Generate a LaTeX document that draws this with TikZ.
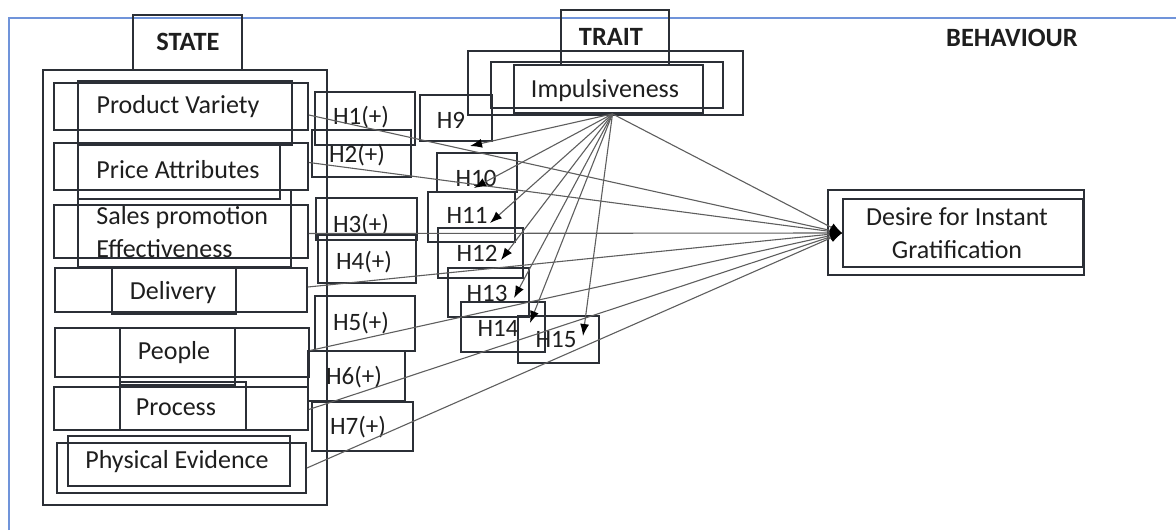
\documentclass[tikz,border=0pt]{standalone}
\usepackage{fontspec}
\setmainfont{Carlito}
\usepackage{xcolor}
\usetikzlibrary{fit,arrows.meta}
\definecolor{boxc}{HTML}{2B2F36}
\definecolor{framec}{HTML}{7094DA}
\definecolor{linec}{HTML}{5E5E5E}
\definecolor{txtc}{HTML}{1E1E1E}

\begin{document}
\begin{tikzpicture}[x=0.5pt,y=-0.5pt,
   bx/.style={draw=boxc,line width=0.9pt,inner sep=0pt,fit={#1}},
   lbl/.style={font=\fontsize{13}{16.5}\selectfont,inner sep=0pt,text=txtc},
   hyp/.style={font=\fontsize{12.5}{15}\selectfont,inner sep=0pt,text=txtc},
   head/.style={font=\bfseries\fontsize{13.2}{15}\selectfont,inner sep=0pt,text=txtc},
   link/.style={draw=linec,line width=0.55pt,-{Latex[length=6pt,width=4.5pt,color=black]}}]
   \useasboundingbox (0,0) rectangle (1176,530);
   \draw[framec,line width=1pt] (9,530) -- (9,18) -- (1176,18);
   % headings
   \node[bx={(133,15)(242,70)}] (statebox) {};
   \node[head] (state) at (188,42) {STATE};
   \node[bx={(561,10)(669,65)}] (traitbox) {};
   \node[head] (trait) at (611,37) {TRAIT};
   \node[head] (behav) at (1012,38) {BEHAVIOUR};
   % state constructs
   \node[bx={(43,70)(327,505)}] (statecol) {};
   \node[bx={(54,83)(308,130)}] (pvrow) {};
   \node[bx={(78,81)(292,145)}] (pvbox) {};
   \node[lbl] (pv) at (178,107) {Product Variety};
   \node[bx={(54,143)(308,190)}] (parow) {};
   \node[bx={(78,145)(280,199)}] (pabox) {};
   \node[lbl] (pa) at (178,170) {Price Attributes};
   \node[bx={(54,205)(308,258)}] (sprow) {};
   \node[bx={(78,190)(291,267)}] (spbox) {};
   \node[lbl,anchor=west,align=left] (sp) at (96,232) {Sales promotion\\Effectiveness};
   \node[bx={(55,268)(307,312)}] (dlrow) {};
   \node[bx={(112,268)(236,314)}] (dlbox) {};
   \node[lbl] (dl) at (173,293) {Delivery};
   \node[bx={(55,328)(309,377)}] (perow) {};
   \node[bx={(120,328)(235,385)}] (pebox) {};
   \node[lbl] (pe) at (174,353) {People};
   \node[bx={(54,387)(308,430)}] (prrow) {};
   \node[bx={(120,382)(246,430)}] (prbox) {};
   \node[lbl] (pr) at (176,407) {Process};
   \node[bx={(57,443)(306,493)}] (phrow) {};
   \node[bx={(68,436)(290,486)}] (phbox) {};
   \node[lbl] (ph) at (177,462) {Physical Evidence};
   % trait
   \node[bx={(468,51)(743,115)}] (impout) {};
   \node[bx={(491,62)(723,108)}] (impmid) {};
   \node[bx={(514,65)(703,113)}] (impin) {};
   \node[lbl] (imp) at (605,91) {Impulsiveness};
   % behaviour
   \node[bx={(828,190)(1084,275)}] (desout) {};
   \node[bx={(843,199)(1083,267)}] (desin) {};
   \node[lbl,align=center] (desire) at (957,233) {Desire for Instant\\Gratification};
   % hypotheses
   \node[bx={(315,92)(415,145)}] (h1box) {};
   \node[hyp] (h1) at (361,117) {H1(+)};
   \node[bx={(312,130)(411,177)}] (h2box) {};
   \node[hyp] (h2) at (357,155) {H2(+)};
   \node[bx={(316,198)(417,240)}] (h3box) {};
   \node[hyp] (h3) at (361,225) {H3(+)};
   \node[bx={(318,235)(416,283)}] (h4box) {};
   \node[hyp] (h4) at (364,262) {H4(+)};
   \node[bx={(315,296)(415,351)}] (h5box) {};
   \node[hyp] (h5) at (361,323) {H5(+)};
   \node[bx={(308,351)(405,401)}] (h6box) {};
   \node[hyp] (h6) at (354,377) {H6(+)};
   \node[bx={(312,402)(413,451)}] (h7box) {};
   \node[hyp] (h7) at (358,427) {H7(+)};
   \node[bx={(420,95)(492,141)}] (h9box) {};
   \node[hyp] (h9) at (451,120) {H9};
   \node[bx={(437,153)(517,192)}] (h10box) {};
   \node[hyp] (h10) at (476,178) {H10};
   \node[bx={(428,192)(515,242)}] (h11box) {};
   \node[hyp] (h11) at (467,215) {H11};
   \node[bx={(438,228)(523,278)}] (h12box) {};
   \node[hyp] (h12) at (477,253) {H12};
   \node[bx={(448,268)(529,317)}] (h13box) {};
   \node[hyp] (h13) at (487,293) {H13};
   \node[bx={(461,302)(545,352)}] (h14box) {};
   \node[hyp] (h14) at (498,328) {H14};
   \node[bx={(518,316)(599,363)}] (h15box) {};
   \node[hyp] (h15) at (556,340) {H15};
   % arrow tips of the moderating paths
   \coordinate (t9) at (470,146);
   \coordinate (t10) at (474,188);
   \coordinate (t11) at (490,223);
   \coordinate (t12) at (501,260);
   \coordinate (t13) at (514,298);
   \coordinate (t14) at (530,323);
   \coordinate (t15) at (583,336);
   % direct paths
   \draw[link] ([yshift=-4.25pt]pvrow.east) -- (desin.west);
   \draw[link] ([yshift=2pt]parow.east) -- (desin.west);
   \draw[link] ([yshift=-1pt]sprow.east) -- (desin.west);
   \draw[link] ([yshift=1.5pt]dlrow.east) -- (desin.west);
   \draw[link] ([yshift=1pt]perow.east) -- (desin.west);
   \draw[link] ([yshift=-0.5pt]prrow.east) -- (desin.west);
   \draw[link] (phrow.east) -- (desin.west);
   \draw[link] ([xshift=2pt]impin.south) -- (desin.west);
   % moderating paths
   \foreach \t in {t9,t10,t11,t12,t13,t14,t15}
      \draw[link] ([xshift=2pt]impin.south) -- (\t);
\end{tikzpicture}
\end{document}
